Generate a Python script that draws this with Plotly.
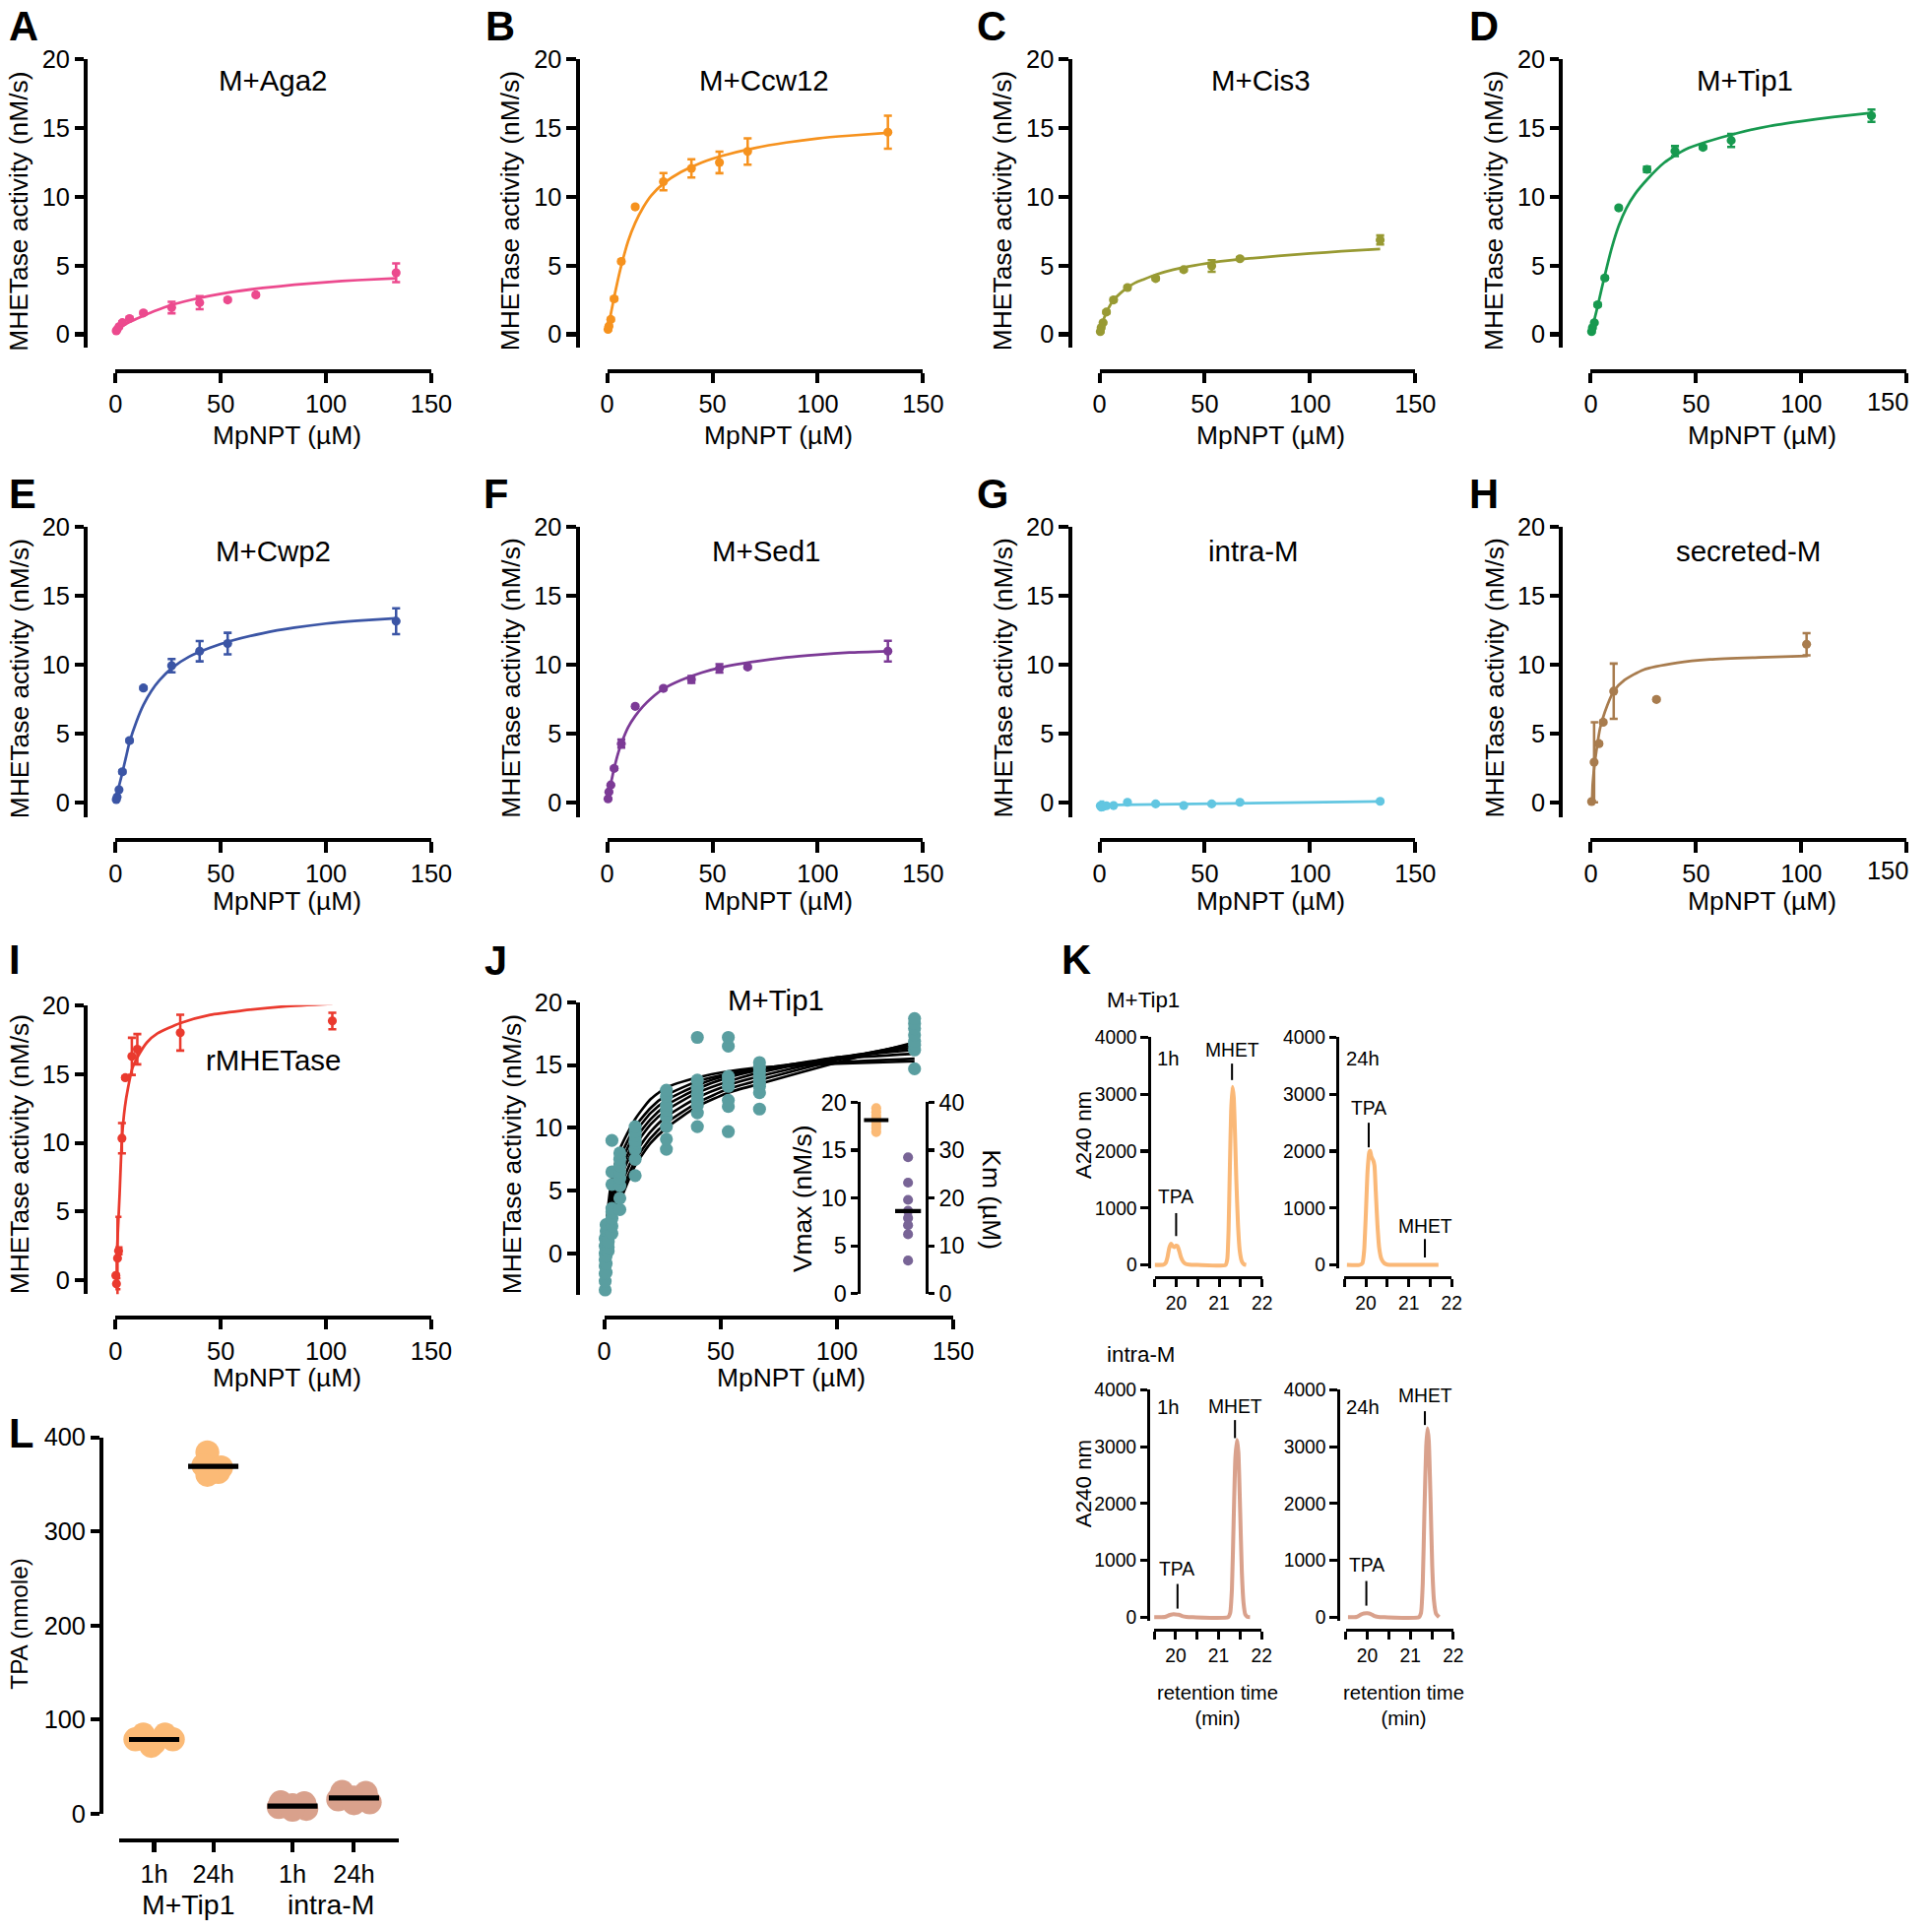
import numpy as np
import plotly.graph_objects as go

W, H = 1961, 1962

# ================= DATA =================
conc = [0.4, 0.8, 1.7, 3.3, 6.7, 13.3, 26.7, 40, 53.3, 66.7, 133.3]
fit_x = [0, 1, 2, 3.3, 5, 6.7, 10, 13.3, 17, 21, 27, 35, 45, 55, 70, 85, 100, 115, 133.3]

aga2_v = [0.25, 0.35, 0.55, 0.85, 1.15, 1.55, 1.95, 2.3, 2.5, 2.87, 4.47]
aga2_err = [0.08, 0.08, 0.08, 0.1, 0.1, 0.1, 0.42, 0.48, 0.1, 0.1, 0.68]
aga2_fit = [0.2, 0.32, 0.45, 0.6, 0.75, 0.9, 1.12, 1.35, 1.6, 1.83, 2.15, 2.47, 2.8, 3.07, 3.37, 3.6, 3.79, 3.94, 4.07]

ccw12_v = [0.36, 0.6, 1.08, 2.58, 5.3, 9.27, 11.1, 12.07, 12.5, 13.3, 14.7]
ccw12_err = [0.08, 0.08, 0.1, 0.1, 0.1, 0.1, 0.63, 0.66, 0.78, 0.96, 1.2]
ccw12_fit = [0.3, 0.9, 1.7, 2.7, 3.9, 5.0, 6.8, 8.1, 9.2, 10.1, 11.0, 11.8, 12.5, 13.0, 13.55, 13.95, 14.25, 14.45, 14.65]

cis3_v = [0.2, 0.48, 0.84, 1.62, 2.5, 3.4, 4.06, 4.7, 4.97, 5.5, 6.86]
cis3_err = [0.05, 0.05, 0.05, 0.1, 0.1, 0.1, 0.1, 0.1, 0.42, 0.1, 0.33]
cis3_fit = [0.15, 0.65, 1.1, 1.6, 2.1, 2.5, 3.0, 3.4, 3.75, 4.0, 4.35, 4.7, 5.0, 5.25, 5.5, 5.7, 5.88, 6.04, 6.2]

tip1_v = [0.2, 0.48, 0.84, 2.15, 4.1, 9.2, 12.0, 13.33, 13.6, 14.1, 15.9]
tip1_err = [0.05, 0.05, 0.05, 0.1, 0.1, 0.1, 0.2, 0.36, 0.1, 0.48, 0.45]
tip1_fit = [0.2, 0.65, 1.25, 2.05, 3.2, 4.3, 6.3, 7.9, 9.2, 10.2, 11.3, 12.5, 13.45, 14.0, 14.65, 15.15, 15.5, 15.8, 16.1]

cwp2_conc = [0.4, 0.8, 1.7, 3.3, 6.7, 13.3, 26.7, 40, 53.3, 133.3]
cwp2_v = [0.24, 0.43, 0.95, 2.26, 4.52, 8.33, 9.95, 11.0, 11.55, 13.17]
cwp2_err = [0.05, 0.05, 0.05, 0.1, 0.1, 0.1, 0.48, 0.74, 0.78, 0.94]
cwp2_fit = [0.2, 0.8, 1.4, 2.2, 3.3, 4.4, 5.9, 7.1, 8.1, 8.9, 9.8, 10.6, 11.25, 11.75, 12.3, 12.7, 13.0, 13.2, 13.38]

sed1_v = [0.3, 0.8, 1.3, 2.5, 4.3, 7.0, 8.3, 8.95, 9.75, 9.85, 11.0]
sed1_err = [0.05, 0.05, 0.05, 0.1, 0.3, 0.1, 0.1, 0.25, 0.3, 0.1, 0.75]
sed1_fit = [0.1, 0.9, 1.6, 2.5, 3.5, 4.3, 5.5, 6.3, 7.0, 7.6, 8.3, 8.9, 9.45, 9.85, 10.25, 10.55, 10.75, 10.9, 11.0]

intra_v = [-0.2, -0.3, -0.25, -0.2, -0.19, 0.05, -0.07, -0.19, -0.07, 0.05, 0.12]
intra_err = [0.3, 0.1, 0.05, 0.05, 0.05, 0.05, 0.05, 0.05, 0.05, 0.05, 0.05]
intra_fit_x = [0, 133.3]
intra_fit = [-0.15, 0.1]

sec_conc = [0.4, 1.6, 3.9, 5.9, 10.9, 31.2, 102.5]
sec_v = [0.1, 2.95, 4.3, 5.85, 8.1, 7.5, 11.5]
sec_err = [0.05, 2.9, 0.1, 0.1, 2.0, 0.1, 0.8]
sec_fit_x = [0.4, 1.0, 1.6, 2.8, 4.4, 6.7, 10.9, 16, 25, 41, 56.6, 80, 103]
sec_fit = [0.1, 1.5, 2.5, 3.9, 5.4, 6.6, 8.1, 8.9, 9.65, 10.15, 10.4, 10.55, 10.65]

rm_conc = [0.2, 0.5, 1.0, 1.5, 3.1, 4.7, 7.8, 10.4, 30.8, 103]
rm_v = [0.36, -0.24, 1.62, 2.15, 10.33, 14.73, 16.28, 16.8, 18.0, 18.85]
rm_err_plus = [0.1, 0.4, 3.0, 0.25, 1.1, 0.1, 1.35, 1.1, 1.3, 0.6]
rm_err_minus = [0.1, 0.4, 4.1, 0.25, 1.1, 0.1, 1.35, 1.1, 1.3, 0.6]
rm_fit_x = [0.05, 0.5, 1, 2, 3.1, 4.5, 6, 8, 10.4, 15, 20, 30.8, 45, 60, 80, 103]
rm_fit = [0, 1.5, 3.0, 6.3, 10.3, 12.6, 14.0, 15.4, 16.2, 17.3, 17.95, 18.7, 19.3, 19.6, 19.9, 20.1]

# Panel J: replicate measurements (8 per concentration) and 8 individual fits
j_reps = [
    [-2.9, -2.2, -1.6, -1.0, -0.5, 0.0, 0.6, 1.2],
    [-1.5, -0.8, -0.2, 0.3, 0.8, 1.3, 1.8, 2.3],
    [0.2, 0.5, 0.9, 1.2, 1.6, 2.0, 2.3, 1.0],
    [1.6, 2.2, 2.8, 3.3, 3.6, 5.5, 6.5, 9.0],
    [3.5, 4.4, 5.4, 6.0, 6.5, 7.0, 7.5, 8.0],
    [6.2, 7.5, 8.3, 8.8, 9.0, 9.4, 9.7, 10.1],
    [8.3, 9.1, 10.1, 10.9, 11.4, 11.8, 12.5, 13.0],
    [10.1, 11.2, 11.8, 12.2, 12.7, 13.2, 13.8, 17.2],
    [9.7, 11.7, 12.2, 13.3, 13.8, 14.1, 16.5, 17.2],
    [11.5, 12.8, 13.3, 13.6, 14.0, 14.4, 14.8, 15.2],
    [14.7, 16.2, 16.6, 16.9, 17.4, 17.9, 18.3, 18.7],
]
j_fit_x = [0, 1, 3.3, 6.7, 13.3, 20, 26.7, 40, 53.3, 66.7, 100, 133.3]
j_fits = [
    [0, 2.5, 6.0, 8.3, 10.7, 12.3, 13.2, 14.0, 14.5, 14.8, 15.1, 15.3],
    [0, 2.0, 5.2, 7.6, 10.1, 11.6, 12.6, 13.7, 14.3, 14.7, 15.2, 15.5],
    [0, 1.7, 4.6, 7.0, 9.6, 11.2, 12.2, 13.4, 14.2, 14.7, 15.5, 15.9],
    [0, 1.5, 4.1, 6.4, 9.1, 10.7, 11.8, 13.1, 14.0, 14.6, 15.6, 16.2],
    [0, 1.3, 3.7, 5.9, 8.6, 10.3, 11.4, 12.8, 13.7, 14.4, 15.6, 16.4],
    [0, 1.0, 3.1, 5.2, 8.0, 9.7, 10.9, 12.4, 13.4, 14.1, 15.5, 16.6],
    [0, 0.8, 2.6, 4.6, 7.4, 9.2, 10.4, 12.0, 13.1, 13.8, 15.4, 16.7],
    [0, 0.6, 2.1, 4.1, 7.0, 8.8, 10.0, 11.7, 12.8, 13.5, 15.2, 16.8],
]
j_vmax = [19.4, 19.0, 18.6, 18.3, 18.0, 17.6, 17.3, 16.9]
j_km = [28.5, 23.2, 19.6, 17.3, 15.8, 14.3, 12.4, 6.9]

# Panel K: HPLC chromatograms (retention time in min, A240)
k_tip1_1h_t = [19.5, 19.7, 19.76, 19.8, 19.84, 19.88, 19.92, 19.96, 20.0, 20.03, 20.07, 20.11, 20.16, 20.22, 20.3, 20.5,
               21.15, 21.19, 21.22, 21.25, 21.28, 21.31, 21.34, 21.37, 21.4, 21.44, 21.48, 21.53, 21.58, 21.63]
k_tip1_1h_a = [0, 5, 40, 140, 300, 375, 330, 315, 340, 330, 250, 140, 60, 20, 5, 0,
               0, 100, 600, 1700, 2700, 3130, 2950, 2300, 1500, 700, 250, 60, 10, 0]
k_tip1_24h_t = [19.56, 19.85, 19.92, 19.96, 20.0, 20.04, 20.08, 20.1, 20.13, 20.17, 20.2, 20.23, 20.27, 20.31, 20.36,
                20.43, 20.5, 20.7, 21.69]
k_tip1_24h_a = [0, 0, 30, 250, 900, 1650, 1980, 2010, 1900, 1840, 1750, 1300, 700, 300, 110, 30, 5, 0, 0]
k_intra_1h_t = [19.5, 19.75, 19.85, 19.92, 20.0, 20.07, 20.15, 20.25, 20.4, 21.22, 21.27, 21.31, 21.35, 21.39, 21.43,
                21.46, 21.5, 21.54, 21.58, 21.62, 21.67, 21.73]
k_intra_1h_a = [0, 5, 35, 50, 50, 45, 20, 5, 0, 0, 80, 500, 1700, 2800, 3120, 2900, 1900, 800, 250, 50, 5, 0]
k_intra_24h_t = [19.55, 19.75, 19.85, 19.92, 20.0, 20.07, 20.15, 20.25, 20.4, 21.2, 21.25, 21.29, 21.33, 21.37, 21.4,
                 21.43, 21.47, 21.51, 21.55, 21.6, 21.67]
k_intra_24h_a = [0, 5, 45, 65, 70, 60, 25, 5, 0, 0, 80, 600, 1900, 3000, 3320, 3100, 2100, 900, 300, 60, 0]

# Panel L: TPA released (nmole)
l_labels = ["1h", "24h", "1h", "24h"]
l_groups = ["M+Tip1", "intra-M"]
l_tip1_1h = [84, 84, 79, 79, 75, 72]
l_tip1_24h = [384, 370, 368, 363, 360]
l_intra_1h = [12, 11, 9, 7, 5, 4]
l_intra_24h = [23, 22, 17, 15, 12, 11]

# ================= STYLE / GEOMETRY =================
FONT = "Liberation Sans, Arial, sans-serif"
C_AGA2, C_CCW12, C_CIS3, C_TIP1 = "#EC4A8E", "#F6921E", "#989A33", "#17994F"
C_CWP2, C_SED1, C_INTRA, C_SEC, C_RM = "#3B55A5", "#7C3A96", "#62C6E1", "#A87C4E", "#EA3A2E"
C_J, C_VMAX, C_KM = "#5A9EA0", "#FBBA76", "#786496"
C_KTIP, C_KINTRA = "#FAB877", "#D9A18C"

# positions below are given in target-picture pixels; converted to page pixels here
S, OX, OY = 0.9849, 8.0, 15.0


def z(v):
    return v / S


def px(R):
    return R / S - OX


def py(R):
    return R / S - OY


def fx(R):
    return px(R) / W


def fy(R):
    return 1 - py(R) / H


fig = go.Figure()
layout = dict(width=W, height=H, margin=dict(l=0, r=0, t=0, b=0, pad=0), paper_bgcolor="white",
              plot_bgcolor="rgba(0,0,0,0)", showlegend=False, font=dict(family=FONT, size=z(25), color="black"))
annotations, shapes = [], []
counter = [0]


def ann(text, x, y, size=26, angle=0, xanchor="center", yanchor="middle", clamp=False):
    xp = fx(x)
    if clamp:
        xp = max(xp, 0.0)
    annotations.append(dict(text=text, x=xp, y=fy(y), xref="paper", yref="paper", showarrow=False,
                            textangle=angle, xanchor=xanchor, yanchor=yanchor,
                            font=dict(family=FONT, size=z(size), color="black")))


def vline(x, y0, y1, width=2):
    shapes.append(dict(type="line", xref="paper", yref="paper", x0=fx(x), x1=fx(x), y0=fy(y0), y1=fy(y1),
                       line=dict(color="black", width=z(width))))


def axes(xd, yd, xr, yr, ypos, xpos, xkw=None, ykw=None, lw=4, tl=10, tf=25):
    counter[0] += 1
    n = counter[0]
    s = "" if n == 1 else str(n)
    common = dict(showgrid=False, zeroline=False, showline=True, linecolor="black", linewidth=z(lw),
                  ticks="outside", tickwidth=z(lw), tickcolor="black", tickfont=dict(size=z(tf), family=FONT))
    xa = dict(domain=[fx(xd[0]), fx(xd[1])], range=xr, anchor="free", position=fy(xpos), ticklen=z(tl), **common)
    ya = dict(domain=[fy(yd[1]), fy(yd[0])], range=yr, anchor="free", position=fx(ypos), ticklen=z(tl - 1), **common)
    if xkw:
        xa.update(xkw)
    if ykw:
        ya.update(ykw)
    layout["xaxis" + s] = xa
    layout["yaxis" + s] = ya
    return "x" + s, "y" + s


def kin_panel(letter, title, x0, row, title_x, letter_x, cx, cv, cerr, fx_, fy_, color,
              err_minus=None, xw=320.5, ytitle_dx=67.7, yaxis_dx=30, edge=False):
    y20, y0, ybot, xay = row["y20"], row["y0"], row["ybot"], row["xay"]
    ymin = -(ybot - y0) * 20 / (y0 - y20)
    ttext = ["0", "50", "100", "" if edge else "150"]
    xa, ya = axes((x0, x0 + xw), (y20, ybot), [0, 150], [ymin, 20], x0 - yaxis_dx, xay,
                  xkw=dict(tickvals=[0, 50, 100, 150], ticktext=ttext), ykw=dict(tickvals=[0, 5, 10, 15, 20]))
    fig.add_trace(go.Scatter(x=fx_, y=fy_, mode="lines", line=dict(color=color, width=z(2.7), shape="spline", smoothing=0.6),
                             xaxis=xa, yaxis=ya))
    ey = dict(type="data", array=cerr, color=color, thickness=z(2.5), width=z(4), visible=True)
    if err_minus is not None:
        ey["arrayminus"] = err_minus
        ey["symmetric"] = False
    fig.add_trace(go.Scatter(x=cx, y=cv, mode="markers", marker=dict(color=color, size=z(9)), error_y=ey,
                             cliponaxis=False, xaxis=xa, yaxis=ya))
    ann(title, title_x, row["title_y"], size=29)
    ann("<b>%s</b>" % letter, letter_x, row["letter_y"], size=41, xanchor="left", clamp=True)
    ann("MpNPT (µM)", x0 + 174, row["xt_y"], size=26)
    ann("MHETase activity (nM/s)", x0 - yaxis_dx - ytitle_dx, row["yt_y"], size=26, angle=-90)
    if edge:
        # last tick label kept inside the page
        annotations.append(dict(text="150", x=1.0, y=fy(row["xay"] + 31), xref="paper", yref="paper",
                                showarrow=False, xanchor="right", yanchor="middle",
                                font=dict(family=FONT, size=z(25), color="black")))


row1 = dict(y20=61, y0=340, ybot=353, xay=377, title_y=82, letter_y=27, xt_y=442, yt_y=215)
row2 = dict(y20=535.5, y0=815.5, ybot=830, xay=853.5, title_y=560, letter_y=502, xt_y=915, yt_y=689)
row3 = dict(y20=1020.7, y0=1300, ybot=1314, xay=1337.7, title_y=1076.7, letter_y=974, xt_y=1398.3, yt_y=1171.7)
cols = [118, 617, 1116.5, 1615]
lx = [0, 491, 990, 1490]

kin_panel("A", "M+Aga2", cols[0], row1, 278, lx[0], conc, aga2_v, aga2_err, fit_x, aga2_fit, C_AGA2)
kin_panel("B", "M+Ccw12", cols[1], row1, 776.7, lx[1], conc, ccw12_v, ccw12_err, fit_x, ccw12_fit, C_CCW12)
kin_panel("C", "M+Cis3", cols[2], row1, 1280, lx[2], conc, cis3_v, cis3_err, fit_x, cis3_fit, C_CIS3)
kin_panel("D", "M+Tip1", cols[3], row1, 1771.7, lx[3], conc, tip1_v, tip1_err, fit_x, tip1_fit, C_TIP1, edge=True)
kin_panel("E", "M+Cwp2", cols[0], row2, 278, lx[0], cwp2_conc, cwp2_v, cwp2_err, fit_x, cwp2_fit, C_CWP2)
kin_panel("F", "M+Sed1", cols[1], row2, 778.5, lx[1] - 2, conc, sed1_v, sed1_err, fit_x, sed1_fit, C_SED1)
kin_panel("G", "intra-M", cols[2], row2, 1273.3, lx[2], conc, intra_v, intra_err, intra_fit_x, intra_fit, C_INTRA)
kin_panel("H", "secreted-M", cols[3], row2, 1775, lx[3], sec_conc, sec_v, sec_err, sec_fit_x, sec_fit, C_SEC, edge=True)
kin_panel("I", "rMHETase", cols[0], row3, 278, 0, rm_conc, rm_v, rm_err_plus, rm_fit_x, rm_fit, C_RM,
          err_minus=rm_err_minus)

# ---------- Panel J ----------
j_y20, j_y0, j_ybot = 1017.7, 1272.7, 1315
j_ymin = -(j_ybot - j_y0) * 20 / (j_y0 - j_y20)
xa, ya = axes((614, 968.3), (j_y20, j_ybot), [0, 150], [j_ymin, 20], 587.7, 1337.7,
              xkw=dict(tickvals=[0, 50, 100, 150]), ykw=dict(tickvals=[0, 5, 10, 15, 20]))
for curve in j_fits:
    fig.add_trace(go.Scatter(x=j_fit_x, y=curve, mode="lines",
                             line=dict(color="black", width=z(2.6), shape="spline", smoothing=0.6),
                             xaxis=xa, yaxis=ya))
jx, jy = [], []
for c, reps in zip(conc, j_reps):
    jx += [c] * len(reps)
    jy += reps
fig.add_trace(go.Scatter(x=jx, y=jy, mode="markers", marker=dict(color=C_J, size=z(13)), cliponaxis=False,
                         xaxis=xa, yaxis=ya))
ann("M+Tip1", 788, 1015, size=29)
ann("<b>J</b>", 490, 975, size=41, xanchor="left")
ann("MpNPT (µM)", 803.3, 1398.3, size=26)
ann("MHETase activity (nM/s)", 520, 1172.5, size=26, angle=-90)

# inset
xa_i, ya_i = axes((871.7, 940.7), (1119.3, 1313.3), [0, 1], [0, 20], 871.7, 1313.3,
                  xkw=dict(visible=False), ykw=dict(tickvals=[0, 5, 10, 15, 20], ticklen=z(6)), lw=3, tl=6, tf=23)
layout["yaxis30"] = dict(overlaying=ya_i, side="right", range=[0, 40], anchor="free", position=fx(940.7),
                         showgrid=False, zeroline=False, showline=True, linecolor="black", linewidth=z(3),
                         ticks="outside", ticklen=z(6), tickwidth=z(3), tickcolor="black",
                         tickvals=[0, 10, 20, 30, 40], tickfont=dict(size=z(23), family=FONT))
vpos, kpos = 0.265, 0.733
fig.add_trace(go.Scatter(x=[vpos] * len(j_vmax), y=j_vmax, mode="markers", marker=dict(color=C_VMAX, size=z(10)),
                         cliponaxis=False, xaxis=xa_i, yaxis=ya_i))
fig.add_trace(go.Scatter(x=[vpos - 0.18, vpos + 0.18], y=[np.mean(j_vmax)] * 2, mode="lines",
                         line=dict(color="black", width=z(4)), xaxis=xa_i, yaxis=ya_i))
fig.add_trace(go.Scatter(x=[kpos] * len(j_km), y=j_km, mode="markers", marker=dict(color=C_KM, size=z(10)),
                         cliponaxis=False, xaxis=xa_i, yaxis="y30"))
fig.add_trace(go.Scatter(x=[kpos - 0.19, kpos + 0.19], y=[np.mean(j_km)] * 2, mode="lines",
                         line=dict(color="black", width=z(4)), xaxis=xa_i, yaxis="y30"))
ann("Vmax (nM/s)", 815, 1217, size=26, angle=-90)
ann("Km (µM)", 1007, 1218, size=26, angle=90)

# ---------- Panel K ----------
KT = 18
k_specs = [
    (1172.5, 1281.5, 1166.5, 1053.3, 1284.3, 1296.7, k_tip1_1h_t, k_tip1_1h_a, C_KTIP),
    (1365.0, 1474.0, 1357.7, 1053.3, 1284.3, 1296.7, k_tip1_24h_t, k_tip1_24h_a, C_KTIP),
    (1172.0, 1281.0, 1166.0, 1411.0, 1641.7, 1654.0, k_intra_1h_t, k_intra_1h_a, C_KINTRA),
    (1366.5, 1475.5, 1358.3, 1411.0, 1641.7, 1654.0, k_intra_24h_t, k_intra_24h_a, C_KINTRA),
]
for (xa0, xa1, ypos, y4000, y0px, xpos, tt, aa, col) in k_specs:
    per = (y0px - y4000) / 4000.0
    ybot = y0px + 60 * per
    xk, yk = axes((xa0, xa1), (y4000, ybot), [19.5, 22], [-60, 4000], ypos, xpos,
                  xkw=dict(tickvals=[19.5, 20, 20.5, 21, 21.5, 22], ticktext=["", "20", "", "21", "", "22"]),
                  ykw=dict(tickvals=[0, 1000, 2000, 3000, 4000], ticklabelstandoff=0), lw=3, tl=8, tf=KT + 1)
    fig.add_trace(go.Scatter(x=tt, y=aa, mode="lines",
                             line=dict(color=col, width=z(4), shape="spline", smoothing=0.5),
                             xaxis=xk, yaxis=yk))

ann("<b>K</b>", 1076, 974, size=41, xanchor="left")
ann("M+Tip1", 1122, 1015, size=22, xanchor="left")
ann("intra-M", 1122, 1375, size=22, xanchor="left")
ann("A240 nm", 1100, 1153, size=22, angle=-90)
ann("A240 nm", 1100, 1506.7, size=22, angle=-90)
# top-left
ann("1h", 1173, 1075, size=KT + 2, xanchor="left")
ann("MHET", 1251, 1066, size=KT + 1)
vline(1251, 1080, 1096.7)
ann("TPA", 1193.5, 1215, size=KT + 1)
vline(1194.3, 1231.7, 1255)
# top-right
ann("24h", 1365, 1075, size=KT + 2, xanchor="left")
ann("TPA", 1389.5, 1125, size=KT + 1)
vline(1389.7, 1140, 1165)
ann("MHET", 1446.7, 1245, size=KT + 1)
vline(1446.7, 1258, 1276.7)
# bottom-left
ann("1h", 1173, 1429, size=KT + 2, xanchor="left")
ann("MHET", 1254, 1427.7, size=KT + 1)
vline(1254, 1441.7, 1460)
ann("TPA", 1195, 1592.7, size=KT + 1)
vline(1195.7, 1608, 1633)
# bottom-right
ann("24h", 1365, 1429, size=KT + 2, xanchor="left")
ann("MHET", 1446.7, 1416.7, size=KT + 1)
vline(1446.7, 1432.7, 1446.7)
ann("TPA", 1387.3, 1589.3, size=KT + 1)
vline(1387.3, 1605, 1630)
ann("retention time<br>(min)", 1236.7, 1731, size=KT + 2)
ann("retention time<br>(min)", 1425, 1731, size=KT + 2)

# ---------- Panel L ----------
l_pos = [0.593, 1.593, 2.933, 3.972]
xl, yl = axes((121.7, 406), (1459.1, 1841), [0, 4.738], [0, 400], 104, 1868.3,
              xkw=dict(tickvals=l_pos, ticktext=l_labels, ticklen=z(10)),
              ykw=dict(tickvals=[0, 100, 200, 300, 400]), lw=4, tl=10, tf=25)
l_sets = [(l_tip1_1h, C_VMAX, [-11, 11, -19, 19, 0, -3]),
          (l_tip1_24h, C_VMAX, [-6, -10, 8, 5, -6]),
          (l_intra_1h, C_KINTRA, [-12, 12, 0, -14, 14, 0]),
          (l_intra_24h, C_KINTRA, [-12, 12, 0, -16, 16, 0])]
for p, (vals, col, offs) in zip(l_pos, l_sets):
    fig.add_trace(go.Scatter(x=[p + o / 60.0 for o in offs], y=vals, mode="markers",
                             marker=dict(color=col, size=z(24)), cliponaxis=False, xaxis=xl, yaxis=yl))
for p, (vals, col, offs) in zip(l_pos, l_sets):
    fig.add_trace(go.Scatter(x=[p - 0.425, p + 0.425], y=[np.mean(vals)] * 2, mode="lines",
                             line=dict(color="black", width=z(5)), xaxis=xl, yaxis=yl))
ann("<b>L</b>", 0, 1455, size=41, xanchor="left", clamp=True)
ann("TPA (nmole)", 20, 1648, size=24, angle=-90)
ann(l_groups[0], 191.7, 1933, size=28)
ann(l_groups[1], 336.7, 1933, size=28)

layout["annotations"] = annotations
layout["shapes"] = shapes
fig.update_layout(**layout)
fig.update_traces(hoverinfo="skip")
fig.write_html("out.html", include_plotlyjs=True, full_html=True,
               config={"displayModeBar": False, "staticPlot": True},
               post_script="document.body.style.margin='0';")
